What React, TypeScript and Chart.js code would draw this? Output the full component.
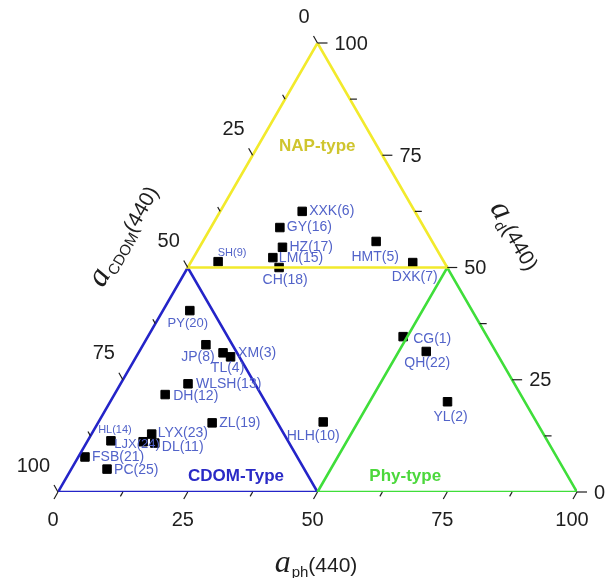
import React, { useEffect, useRef } from "react";
import { Chart, registerables } from "chart.js";
Chart.register(...registerables);

// ---- data (percent contributions at 440 nm) ----
const siteLabels = [
  "XXK(6)", "GY(16)", "HZ(17)", "LM(15)", "CH(18)", "SH(9)", "HMT(5)", "DXK(7)",
  "PY(20)", "JP(8)", "XM(3)", "TL(4)", "WLSH(13)", "DH(12)", "ZL(19)", "HLH(10)",
  "LYX(23)", "DL(11)", "LJX(24)", "HL(14)", "FSB(21)", "PC(25)", "CG(1)", "QH(22)", "YL(2)",
];
const aphValues = [
  15.8, 13.3, 16.0, 15.3, 17.6, 5.2, 33.4, 42.8,
  5.2, 12.1, 16.3, 18.2, 13.0, 9.8, 22.0, 43.3,
  11.6, 13.2, 10.8, 4.5, 1.3, 6.9, 49.2, 55.3, 65.0,
];
const adValues = [
  62.5, 58.9, 54.5, 52.2, 50.0, 51.3, 55.8, 51.1,
  40.4, 32.8, 31.0, 30.1, 24.1, 21.7, 15.4, 15.6,
  12.9, 10.9, 11.2, 11.4, 7.8, 5.1, 34.6, 31.3, 20.1,
];
const acdomValues = [
  21.7, 27.8, 29.5, 32.5, 32.4, 43.5, 10.8, 6.1,
  54.4, 55.1, 52.7, 51.7, 62.9, 68.5, 62.6, 41.1,
  75.5, 75.9, 78.0, 84.1, 90.9, 88.0, 16.2, 13.4, 14.9,
];
const majorTicks = [0, 25, 50, 75, 100];
const minorTicks = [12.5, 37.5, 62.5, 87.5];
const regionNames = ["NAP-type", "CDOM-Type", "Phy-type"];
// region vertices as [aph, ad, acdom]
const napTriangle = [[0, 100, 0], [0, 50, 50], [50, 50, 0], [0, 100, 0]];
const cdomTriangle = [[0, 0, 100], [50, 0, 50], [0, 50, 50], [0, 0, 100]];
const phyTriangle = [[50, 0, 50], [100, 0, 0], [50, 50, 0], [50, 0, 50]];
const regionAnchors = [[11.5, 76.9, 11.6], [32.5, 3.6, 63.9], [65.1, 3.6, 31.3]];

// ---- styles ----
const YELLOW = "#f2ea2c";
const BLUE = "#2424c8";
const GREEN = "#3fde3a";
const regionColors = ["#cfc52e", "#2a2ac6", "#4cd83c"];
const LABEL_COLOR = "#5263c9";
// label placement: [align, dx, dy, fontSize]
const labelPlacement: [CanvasTextAlign, number, number, number][] = [
  ["left", 7, 0, 14], ["left", 7, 0, 14], ["left", 7, 0, 14], ["left", 6, 1, 14],
  ["center", 6, 13, 14], ["center", 14, -9, 11], ["center", -1, 16, 14], ["center", 2, 15, 14],
  ["center", -2, 13, 13], ["center", -8, 12, 14], ["left", 15, 0, 14], ["center", -3, 11, 14],
  ["left", 8, 0, 14], ["left", 8, 2, 14], ["left", 7, 0, 14], ["center", -10, 14, 14],
  ["left", 6, -1, 14], ["left", 7, 4, 14], ["center", -6, 3, 13], ["center", 4, -11, 11],
  ["left", 7, 0, 14], ["left", 7, 1, 14], ["left", 10, 2, 14], ["center", 1, 12, 14], ["center", 3, 15, 14],
];

const SQ3 = Math.sqrt(3) / 2;
function toXY(p: number, d: number, c: number) {
  const s = p + d + c;
  return { x: ((p + d / 2) / s) * 100, y: (d / s) * 100 * SQ3 };
}

function drawTitle(ctx: CanvasRenderingContext2D, cx: number, cy: number, angle: number, sub: string) {
  ctx.save();
  ctx.translate(cx, cy);
  ctx.rotate(angle);
  const fA = 'italic 32px "Liberation Serif"';
  const fS = '15px "Liberation Sans"';
  const fM = '21px "Liberation Sans"';
  ctx.font = fA;
  const wA = ctx.measureText("a").width;
  ctx.font = fS;
  const wS = ctx.measureText(sub).width;
  ctx.font = fM;
  const wM = ctx.measureText("(440)").width;
  let x = -(wA + wS + wM + 1) / 2;
  ctx.fillStyle = "#1e1e1e";
  ctx.textAlign = "left";
  ctx.textBaseline = "alphabetic";
  ctx.font = fA;
  ctx.fillText("a", x, 8);
  x += wA + 1;
  ctx.font = fS;
  ctx.fillText(sub, x, 13);
  x += wS;
  ctx.font = fM;
  ctx.fillText("(440)", x, 8);
  ctx.restore();
}

const ternaryPlugin = {
  id: "ternary",
  afterDatasetsDraw(chart: any) {
    const ctx: CanvasRenderingContext2D = chart.ctx;
    const xs = chart.scales.x;
    const ys = chart.scales.y;
    const px = (t: number[]) => {
      const q = toXY(t[0], t[1], t[2]);
      return { x: xs.getPixelForValue(q.x), y: ys.getPixelForValue(q.y) };
    };
    ctx.save();
    ctx.strokeStyle = "#1e1e1e";
    ctx.lineWidth = 1.2;
    const all = [...majorTicks.map((v) => [v, 1]), ...minorTicks.map((v) => [v, 0])];
    for (const [v, major] of all) {
      const len = major ? 8 : 5;
      // bottom axis (aph)
      let p = px([v, 0, 100 - v]);
      ctx.beginPath();
      ctx.moveTo(p.x, p.y);
      ctx.lineTo(p.x - 0.5 * len, p.y + SQ3 * len);
      ctx.stroke();
      // right axis (ad)
      p = px([100 - v, v, 0]);
      ctx.beginPath();
      ctx.moveTo(p.x, p.y);
      ctx.lineTo(p.x + len + 2, p.y);
      ctx.stroke();
      // left axis (acdom)
      p = px([0, 100 - v, v]);
      ctx.beginPath();
      ctx.moveTo(p.x, p.y);
      ctx.lineTo(p.x - 0.5 * len, p.y - SQ3 * len);
      ctx.stroke();
    }
    ctx.fillStyle = "#1e1e1e";
    ctx.font = '20px "Liberation Sans"';
    ctx.textBaseline = "middle";
    for (const v of majorTicks) {
      let p = px([v, 0, 100 - v]);
      ctx.textAlign = "center";
      ctx.fillText(String(v), p.x - 5, p.y + 28);
      p = px([100 - v, v, 0]);
      ctx.textAlign = "left";
      ctx.fillText(String(v), p.x + 17, p.y + 1);
      p = px([0, 100 - v, v]);
      ctx.textAlign = "right";
      ctx.fillText(String(v), p.x - 8, p.y - 26);
    }
    // region names
    ctx.font = 'bold 17px "Liberation Sans"';
    ctx.textAlign = "center";
    regionNames.forEach((name, i) => {
      const p = px(regionAnchors[i]);
      ctx.fillStyle = regionColors[i];
      ctx.fillText(name, p.x, p.y);
    });
    // point labels
    const meta = chart.getDatasetMeta(3);
    ctx.fillStyle = LABEL_COLOR;
    siteLabels.forEach((name, i) => {
      const el = meta.data[i];
      const [align, dx, dy, fs] = labelPlacement[i];
      ctx.font = `${fs}px "Liberation Sans"`;
      ctx.textAlign = align;
      ctx.fillText(name, el.x + dx, el.y + dy);
    });
    // axis titles
    drawTitle(ctx, 316, 564, 0, "ph");
    drawTitle(ctx, 124, 236, -Math.PI / 3, "CDOM");
    drawTitle(ctx, 515, 236, Math.PI / 3, "d");
    ctx.restore();
  },
};

export default function App() {
  const ref = useRef<HTMLCanvasElement>(null);
  useEffect(() => {
    if (!ref.current) return;
    const tri = (t: number[][]) => t.map((v) => toXY(v[0], v[1], v[2]));
    const lineDs = (data: any, color: string) => ({
      data,
      showLine: true,
      borderColor: color,
      borderWidth: 2.6,
      pointRadius: 0,
      fill: false,
    });
    const points = aphValues.map((p, i) => toXY(p, adValues[i], acdomValues[i]));
    const chart = new Chart(ref.current, {
      type: "scatter",
      data: {
        datasets: [
          lineDs(tri(napTriangle), YELLOW),
          lineDs(tri(phyTriangle), GREEN),
          lineDs(tri(cdomTriangle), BLUE),
          {
            data: points,
            pointStyle: "rect",
            pointRadius: 6,
            pointBackgroundColor: "#000",
            pointBorderColor: "#000",
            pointBorderWidth: 1,
            showLine: false,
          } as any,
        ],
      },
      options: {
        animation: false,
        responsive: false,
        layout: { padding: { left: 58, right: 36, top: 43, bottom: 86 } },
        scales: {
          x: { type: "linear", min: 0, max: 100, display: false },
          y: { type: "linear", min: 0, max: 100 * SQ3, display: false },
        },
        plugins: { legend: { display: false }, tooltip: { enabled: false } },
      },
      plugins: [ternaryPlugin],
    });
    return () => chart.destroy();
  }, []);
  return (
    <div style={{ position: "absolute", left: 0, top: 0, width: 613, height: 578, background: "#fff" }}>
      <canvas ref={ref} width={613} height={578} style={{ display: "block" }} />
    </div>
  );
}
